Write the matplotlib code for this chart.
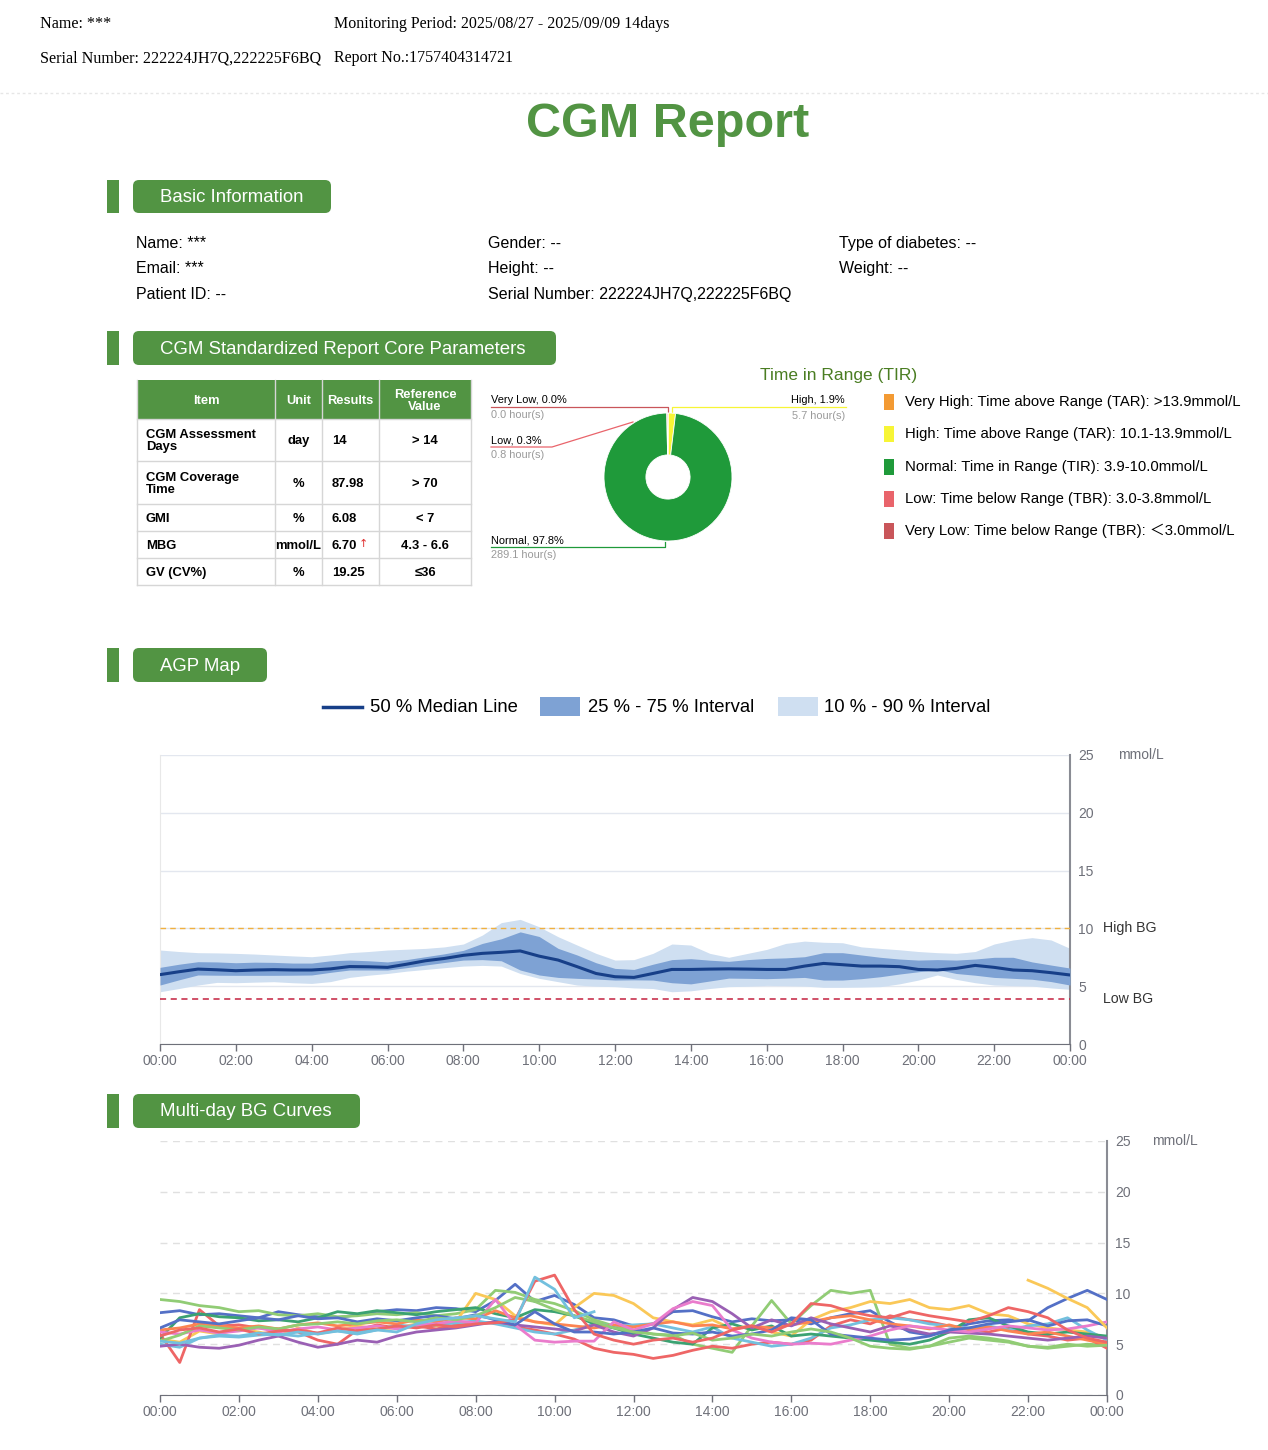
import numpy as np
import matplotlib
matplotlib.use("Agg")
import matplotlib.pyplot as plt
from matplotlib.patches import Rectangle, FancyBboxPatch

# ---------------------------------------------------------------
# data
# ---------------------------------------------------------------
header_left = ["Name: ***", "Serial Number: 222224JH7Q,222225F6BQ"]
header_right = ["Monitoring Period: 2025/08/27 - 2025/09/09 14days", "Report No.:1757404314721"]

info_col1 = ["Name: ***", "Email: ***", "Patient ID: --"]
info_col2 = ["Gender: --", "Height: --", "Serial Number: 222224JH7Q,222225F6BQ"]
info_col3 = ["Type of diabetes: --", "Weight: --"]

table_head = ["Item", "Unit", "Results", "Reference\nValue"]
table_items = ["CGM Assessment\nDays", "CGM Coverage\nTime", "GMI", "MBG", "GV (CV%)"]
table_units = ["day", "%", "%", "mmol/L", "%"]
table_results = ["14", "87.98", "6.08", "6.70", "19.25"]
table_refs = ["> 14", "> 70", "< 7", "4.3 - 6.6", "≤36"]

tir_names = ["Very High", "High", "Normal", "Low", "Very Low"]
tir_pct = [0.0, 1.9, 97.8, 0.3, 0.0]
tir_hours = [0.0, 5.7, 289.1, 0.8, 0.0]
tir_colors = ["#f39a33", "#f7f536", "#1f9a3a", "#e9646b", "#c9565a"]
tir_legend = ["Very High: Time above Range (TAR): >13.9mmol/L",
              "High: Time above Range (TAR): 10.1-13.9mmol/L",
              "Normal: Time in Range (TIR): 3.9-10.0mmol/L",
              "Low: Time below Range (TBR): 3.0-3.8mmol/L",
              "Very Low: Time below Range (TBR): \uff1c3.0mmol/L"]

hours = np.arange(0, 24.5, 0.5)
agp_p50 = [6.0, 6.25, 6.48, 6.42, 6.34, 6.4, 6.43, 6.4, 6.4, 6.5, 6.7, 6.68, 6.63, 6.9, 7.2, 7.4,
           7.67, 7.84, 7.93, 8.05, 7.6, 7.26, 6.69, 6.1, 5.82, 5.76, 6.1, 6.45, 6.45, 6.48, 6.5, 6.48,
           6.45, 6.45, 6.74, 6.97, 6.86, 6.74, 6.74, 6.69, 6.45, 6.4, 6.54, 6.8, 6.63, 6.4, 6.34, 6.17, 5.97]
agp_p75 = [6.63, 6.9, 7.12, 7.1, 7.03, 7.08, 7.06, 7.0, 7.0, 7.2, 7.26, 7.2, 7.1, 7.3, 7.55, 7.8,
           8.1, 8.7, 9.1, 9.7, 9.3, 8.27, 7.7, 7.03, 6.54, 6.45, 6.9, 7.3, 7.38, 7.25, 7.15, 7.3,
           7.4, 7.45, 7.55, 7.9, 7.9, 7.7, 7.5, 7.35, 7.26, 7.3, 7.26, 7.35, 7.5, 7.5, 7.1, 6.83, 6.57]
agp_p25 = [5.1, 5.55, 5.97, 5.95, 5.94, 5.94, 5.94, 5.95, 5.97, 6.2, 6.4, 6.4, 6.4, 6.6, 6.83, 7.05,
           7.26, 7.3, 7.2, 6.4, 5.97, 5.76, 5.68, 5.62, 5.53, 5.55, 5.53, 5.3, 5.2, 5.45, 5.7, 5.68,
           5.65, 5.7, 5.76, 5.53, 5.53, 5.65, 5.82, 6.05, 6.25, 6.45, 6.1, 5.95, 5.76, 5.68, 5.6, 5.4, 5.1]
agp_p90 = [8.13, 8.0, 7.9, 7.88, 7.84, 7.78, 7.7, 7.62, 7.55, 7.7, 7.9, 8.0, 8.13, 8.2, 8.27, 8.4,
           8.65, 9.42, 10.5, 10.78, 10.14, 9.28, 8.56, 7.84, 7.26, 7.3, 7.84, 8.65, 8.56, 7.84, 7.5, 7.84,
           8.18, 8.7, 8.9, 8.8, 8.76, 8.4, 8.27, 8.15, 8.0, 7.9, 7.84, 8.0, 8.65, 9.0, 9.2, 9.0, 8.27]
agp_p10 = [4.52, 4.8, 5.1, 5.33, 5.3, 5.35, 5.39, 5.3, 5.24, 5.4, 5.76, 5.95, 6.1, 6.3, 6.45, 6.6,
           6.74, 6.8, 6.74, 6.1, 5.68, 5.39, 5.1, 5.0, 4.96, 4.85, 4.8, 4.52, 4.6, 4.8, 4.96, 5.0,
           5.07, 5.05, 5.01, 4.9, 4.9, 4.92, 4.96, 5.2, 5.53, 5.97, 5.59, 5.3, 5.1, 5.05, 5.01, 4.85, 4.73]
high_bg = 10.0
low_bg = 3.9

nan = np.nan
day_curves = [
    [8.1, 8.3, 7.9, 8.0, 7.8, 7.6, 8.2, 7.9, 7.7, 7.6, 7.9, 8.2, 8.4, 8.3, 8.6, 8.5, 8.2, 9.3, 10.9, 9.2,
     9.8, 8.9, 7.6, 7.4, 6.8, 7.0, 8.2, 8.3, 7.7, 7.2, 7.5, 7.3, 7.4, 7.0, 7.6, 8.0, 8.3, 7.2, 6.2, 5.9,
     6.4, 7.0, 7.3, 7.4, 7.3, 8.6, 9.5, 10.3, 9.4],
    [9.4, 9.2, 8.8, 8.6, 8.2, 8.3, 7.9, 7.8, 8.0, 7.7, 7.8, 8.0, 7.9, 8.1, 7.8, 8.0, 8.4, 10.3, 10.1, 9.4,
     9.0, 8.3, 7.4, 6.8, 6.4, 6.0, 5.9, 5.0, 4.6, 4.2, 6.8, 9.3, 7.0, 8.8, 10.3, 10.0, 10.3, 5.0, 4.6, 4.8,
     5.6, 5.8, 5.6, 5.3, 4.8, 4.6, 4.8, 5.0, 4.9],
    [5.5, 5.2, 6.3, 6.0, 6.5, 6.2, 5.8, 6.6, 6.0, 6.4, 6.8, 6.5, 6.6, 7.0, 6.8, 7.2, 10.0, 9.4, 7.8, 7.2,
     6.9, 8.6, 10.0, 9.8, 9.0, 7.6, 7.2, 6.9, 7.4, 6.5, 6.8, 6.2, 5.8, 7.4, 8.2, 8.6, 9.2, 9.0, 9.4, 8.6,
     8.4, 8.8, 8.0, 7.8, 7.0, 6.6, 6.4, 6.2, 5.6],
    [6.0, 3.2, 8.4, 6.8, 6.9, 6.6, 6.5, 6.2, 5.4, 5.0, 6.4, 6.9, 6.6, 6.8, 6.5, 6.9, 7.0, 7.2, 6.7, 6.4,
     6.0, 5.5, 4.6, 4.2, 4.0, 3.6, 3.9, 4.4, 4.8, 4.6, 5.0, 5.2, 5.0, 5.4, 6.8, 7.4, 7.0, 7.8, 7.4, 7.2,
     6.8, 6.5, 6.2, 6.6, 6.0, 5.8, 5.4, 5.6, 4.6],
    [5.0, 4.7, 5.6, 5.8, 5.7, 5.9, 6.0, 5.8, 6.1, 6.3, 6.0, 6.4, 6.9, 6.7, 6.9, 7.1, 7.3, 7.0, 6.6, 6.2,
     6.0, 6.4, 7.0, 6.8, 6.9, 7.0, 6.6, 6.2, 6.7, 5.6, 5.2, 4.8, 5.0, 5.6, 6.6, 6.9, 7.4, 7.6, 7.4, 7.0,
     6.8, 6.6, 6.8, 6.4, 6.8, 7.0, 7.6, 6.4, 5.4],
    [5.6, 7.6, 8.0, 7.7, 7.6, 7.3, 7.4, 7.2, 7.6, 8.2, 8.0, 8.3, 8.1, 7.9, 8.2, 8.4, 8.6, 8.0, 7.6, 8.4,
     8.2, 7.8, 7.0, 6.6, 6.0, 5.6, 5.2, 5.0, 6.6, 7.0, 6.4, 6.8, 5.8, 6.0, 5.8, 5.6, 5.4, 5.2, 5.0, 5.4,
     6.2, 7.4, 7.6, 6.8, 6.2, 6.0, 6.2, 6.0, 5.8],
    [6.4, 6.6, 7.0, 6.8, 6.6, 6.8, 6.5, 6.9, 7.1, 6.8, 7.0, 7.2, 7.0, 7.4, 7.2, 7.6, 7.5, 8.3, 7.6, 7.2,
     7.0, 6.8, 6.6, 6.9, 6.7, 7.0, 7.2, 6.8, 6.9, 6.5, 6.8, 6.6, 6.9, 7.2, 7.6, 7.8, 7.4, 7.0, 6.8, 6.5,
     6.9, 6.4, 6.7, 6.3, 6.0, 6.2, 5.8, 5.4, 5.0],
    [4.8, 5.0, 4.7, 4.6, 4.9, 5.4, 5.8, 5.2, 4.7, 5.0, 5.4, 5.2, 5.8, 6.2, 6.4, 6.6, 6.9, 7.2, 6.9, 6.7,
     6.5, 6.3, 6.9, 6.2, 5.8, 6.6, 8.4, 9.6, 9.2, 8.0, 6.6, 7.4, 6.8, 7.6, 7.0, 6.6, 6.2, 6.8, 6.4, 6.0,
     6.2, 6.1, 6.0, 5.8, 5.6, 5.4, 5.6, 5.8, 5.6],
    [6.2, 6.0, 6.4, 6.1, 6.3, 6.6, 6.2, 6.5, 6.7, 6.4, 6.6, 6.8, 6.5, 6.9, 7.0, 7.3, 7.1, 9.4, 6.9, 5.4,
     5.2, 5.3, 5.3, 7.2, 6.4, 7.0, 8.5, 9.2, 8.8, 6.4, 5.6, 5.2, 5.0, 5.1, 5.0, 5.4, 5.8, 6.4, 6.8, 6.6,
     6.4, 6.2, 6.5, 6.8, 6.6, 6.4, 6.5, 6.8, 7.2],
    [6.6, 7.4, 7.2, 7.0, 7.3, 7.6, 7.4, 7.8, 7.5, 7.6, 7.2, 7.5, 7.3, 7.6, 7.8, 7.5, 7.9, 7.4, 6.9, 8.2,
     7.0, 6.2, 6.2, 6.0, 6.2, 6.6, 6.1, 6.0, 6.2, 5.8, 6.0, 6.4, 7.6, 7.4, 6.0, 5.8, 5.6, 5.4, 5.5, 5.8,
     6.4, 6.6, 7.0, 7.2, 7.4, 6.8, 7.3, 7.4, 6.8],
    [5.3, 5.9, 6.8, 6.6, 6.4, 6.7, 6.5, 6.9, 7.0, 7.2, 7.0, 7.3, 7.4, 7.2, 7.6, 7.4, 7.8, 8.6, 9.6, 9.2,
     8.4, 7.8, 7.2, 6.6, 6.2, 6.0, 5.8, 6.1, 5.4, 5.6, 6.0, 5.8, 6.2, 6.5, 6.2, 5.6, 4.8, 4.6, 4.5, 4.8,
     5.2, 5.6, 5.4, 5.2, 4.8, 4.7, 5.0, 4.8, 4.9],
    [nan, nan, nan, nan, nan, nan, nan, nan, nan, nan, nan, nan, nan, nan, nan, nan, nan, nan, nan, nan,
     nan, nan, nan, nan, nan, nan, nan, nan, nan, nan, nan, nan, nan, nan, nan, nan, nan, nan, nan, nan,
     nan, nan, nan, nan, 11.3, 10.5, 9.5, 8.6, 6.6],
    [5.8, 6.4, 6.6, 6.2, 6.5, 6.0, 6.3, 6.4, 6.1, 6.6, 6.3, 6.5, 6.8, 6.6, 6.9, 6.7, 7.0, 7.1, 7.4, 11.2,
     11.8, 8.4, 6.0, 5.4, 5.0, 5.4, 5.6, 5.2, 5.6, 6.4, 6.8, 6.2, 7.0, 9.0, 8.8, 8.2, 7.8, 7.6, 8.2, 7.8,
     7.5, 7.2, 7.8, 8.6, 8.2, 7.6, 6.4, 5.6, 5.2],
    [5.3, 5.1, 5.6, 5.9, 5.8, 6.1, 5.9, 6.2, 6.0, 6.3, 6.1, 6.4, 6.2, 7.0, 7.4, 7.6, 7.8, 7.5, 7.2, 11.6,
     10.4, 7.6, 8.2, nan, nan, nan, nan, nan, nan, nan, nan, nan, nan, nan, nan, nan, nan, nan, nan, nan,
     nan, nan, nan, nan, nan, nan, nan, nan, nan],
]
day_palette = ["#5470c6", "#91cc75", "#fac858", "#ee6666", "#73c0de",
               "#3ba272", "#fc8452", "#9a60b4", "#ea7ccc"]

hour_ticks = list(range(0, 25, 2))
hour_labels = ["%02d:00" % (h % 24) for h in hour_ticks]
bg_ticks = [0, 5, 10, 15, 20, 25]

# ---------------------------------------------------------------
# page layout (pixel coordinates)
# ---------------------------------------------------------------
W, H = 1268, 1450
GREEN = "#529443"
SANS = ["Liberation Sans", "DejaVu Sans"]
AXIS_GRAY = "#6e7079"

plt.rcParams["font.family"] = SANS

fig = plt.figure(figsize=(W / 100, H / 100), dpi=100)
bg = fig.add_axes([0, 0, 1, 1])
bg.set_xlim(0, W)
bg.set_ylim(H, 0)
bg.axis("off")


def px_axes(x0, y0, x1, y1):
    return fig.add_axes([x0 / W, 1 - y1 / H, (x1 - x0) / W, (y1 - y0) / H])


def section(y0, y1, x1, label):
    bg.add_patch(Rectangle((107, y0), 12, y1 - y0, color=GREEN, lw=0))
    bg.add_patch(FancyBboxPatch((133, y0), x1 - 133, y1 - y0,
                                boxstyle="round,pad=0,rounding_size=6",
                                fc=GREEN, ec="none"))
    bg.text(160, (y0 + y1) / 2 + 1, label, color="white", fontsize=13.4,
            va="center", ha="left")


# top header (serif)
for i, t in enumerate(header_left):
    bg.text(40, 24 + i * 34, t, family="Liberation Serif", fontsize=11.6, va="center")
for i, t in enumerate(header_right):
    bg.text(334, 24 + i * 34, t, family="Liberation Serif", fontsize=11.5, va="center")
bg.plot([0, W], [93, 93], color="#e6e6e6", lw=1, ls=(0, (2, 2)))

bg.text(668, 124, "CGM Report", color=GREEN, fontsize=35, fontweight="bold",
        ha="center", va="center")

# basic information
section(180, 213, 331, "Basic Information")
for col_x, col in [(136, info_col1), (488, info_col2), (839, info_col3)]:
    for i, t in enumerate(col):
        bg.text(col_x, 243 + i * 25.5, t, fontsize=11.5, va="center")

# core parameters table
section(331, 365, 556, "CGM Standardized Report Core Parameters")
col_x = [137, 275, 322, 379, 471]
row_y = [380, 419, 461, 504, 531, 558, 585]
bg.add_patch(Rectangle((col_x[0], row_y[0]), col_x[-1] - col_x[0], row_y[1] - row_y[0],
                       fc=GREEN, ec="none"))
for x in col_x:
    bg.plot([x, x], [row_y[0], row_y[-1]], color="#d6d6d6", lw=1)
for y in row_y[1:]:
    bg.plot([col_x[0], col_x[-1]], [y, y], color="#d6d6d6", lw=1)
for j, t in enumerate(table_head):
    bg.text((col_x[j] + col_x[j + 1]) / 2, (row_y[0] + row_y[1]) / 2 + 1, t, color="white",
            fontsize=9.3, fontweight="bold", ha="center", va="center", linespacing=1.0)
for i in range(len(table_items)):
    yc = (row_y[i + 1] + row_y[i + 2]) / 2 + 1
    bg.text(146, yc, table_items[i], fontsize=9.4, fontweight="bold", va="center", linespacing=1.0)
    bg.text((col_x[1] + col_x[2]) / 2, yc, table_units[i], fontsize=9.4, fontweight="bold",
            ha="center", va="center")
    bg.text(332, yc, table_results[i], fontsize=9.4, fontweight="bold", va="center")
    bg.text((col_x[3] + col_x[4]) / 2, yc, table_refs[i], fontsize=9.4, fontweight="bold",
            ha="center", va="center")
bg.text(359, 544, "\u2191", color="#e03030", fontsize=8, ha="left", va="center",
        family=["DejaVu Sans"])

# TIR donut
bg.text(839, 375, "Time in Range (TIR)", color="#4a7d22", fontsize=12.5, ha="center", va="center")
pie_ax = px_axes(604, 413, 732, 541)
pie_ax.pie(tir_pct, colors=tir_colors, startangle=90, counterclock=False, radius=1,
           wedgeprops=dict(width=0.655, edgecolor="white", linewidth=0.6))
pie_ax.set_xlim(-1, 1)
pie_ax.set_ylim(-1, 1)
pie_ax.set_aspect("auto")
pie_ax.axis("off")

lab_fs = 7.9
# Very Low
bg.plot([491, 668, 668], [407, 407, 412], color=tir_colors[4], lw=0.9)
bg.text(491, 400, "%s, %.1f%%" % (tir_names[4], tir_pct[4]), fontsize=lab_fs, va="center")
bg.text(491, 415, "%.1f hour(s)" % tir_hours[4], fontsize=lab_fs, color="#9a9a9a", va="center")
# Low
bg.plot([491, 552, 633], [447, 447, 422], color=tir_colors[3], lw=0.9)
bg.text(491, 440, "%s, %.1f%%" % (tir_names[3], tir_pct[3]), fontsize=lab_fs, va="center")
bg.text(491, 455, "%.1f hour(s)" % tir_hours[3], fontsize=lab_fs, color="#9a9a9a", va="center")
# High
bg.plot([672, 672, 846], [412, 407, 407], color=tir_colors[1], lw=0.9)
bg.text(845, 400, "%s, %.1f%%" % (tir_names[1], tir_pct[1]), fontsize=lab_fs, ha="right", va="center")
bg.text(845, 416, "%.1f hour(s)" % tir_hours[1], fontsize=lab_fs, color="#9a9a9a",
        ha="right", va="center")
# Normal
bg.plot([665, 665, 491], [542, 547, 547], color=tir_colors[2], lw=0.9)
bg.text(491, 540, "%s, %.1f%%" % (tir_names[2], tir_pct[2]), fontsize=lab_fs, va="center")
bg.text(491, 555, "%.1f hour(s)" % tir_hours[2], fontsize=lab_fs, color="#9a9a9a", va="center")

for i, t in enumerate(tir_legend):
    yc = 402 + i * 32.3
    bg.add_patch(Rectangle((884, yc - 8), 10, 16, color=tir_colors[i], lw=0))
    bg.text(905, yc, t, fontsize=10.7, va="center",
            family=["Liberation Sans", "Noto Sans CJK SC", "DejaVu Sans"])

# ---------------------------------------------------------------
# AGP map
# ---------------------------------------------------------------
section(648, 682, 267, "AGP Map")
C_MED, C_IQR, C_OUT = "#173f88", "#7ea2d4", "#cfdff1"
bg.plot([323, 362], [707, 707], color=C_MED, lw=2.5)
bg.text(370, 707, "50 % Median Line", fontsize=13.3, va="center")
bg.add_patch(Rectangle((540, 697), 40, 19, color=C_IQR, lw=0))
bg.text(588, 707, "25 % - 75 % Interval", fontsize=13.3, va="center")
bg.add_patch(Rectangle((778, 697), 40, 19, color=C_OUT, lw=0))
bg.text(824, 707, "10 % - 90 % Interval", fontsize=13.3, va="center")

ax = px_axes(160, 755, 1070, 1044)
ax.fill_between(hours, agp_p10, agp_p90, color=C_OUT, lw=0, zorder=2)
ax.fill_between(hours, agp_p25, agp_p75, color=C_IQR, lw=0, zorder=3)
ax.plot(hours, agp_p50, color=C_MED, lw=2.2, zorder=4)
ax.axhline(high_bg, color="#f0b040", lw=1, ls=(0, (4, 3)), zorder=5)
ax.axhline(low_bg, color="#c4203f", lw=1.1, ls=(0, (4, 3)), zorder=5)
ax.set_xlim(0, 24)
ax.set_ylim(0, 25)
ax.set_yticks(bg_ticks)
ax.yaxis.tick_right()
ax.yaxis.grid(True, color="#e3e7ef", lw=1)
ax.set_axisbelow(True)
ax.set_xticks(hour_ticks)
ax.set_xticklabels(hour_labels)
ax.tick_params(axis="x", colors=AXIS_GRAY, labelsize=10, length=5, width=1, pad=2)
ax.tick_params(axis="y", colors=AXIS_GRAY, labelsize=10, length=0, pad=6)
ax.spines["top"].set_visible(False)
ax.spines["left"].set_color("#e8e8e8")
ax.spines["right"].set_color("#8a8c94")
ax.spines["right"].set_linewidth(1.5)
ax.spines["bottom"].set_color(AXIS_GRAY)
bg.text(1103, 928, "High BG", fontsize=10.2, color="#333333", va="center")
bg.text(1103, 999, "Low BG", fontsize=10.2, color="#333333", va="center")
bg.text(1118, 755, "mmol/L", fontsize=10, color=AXIS_GRAY, va="center")

# ---------------------------------------------------------------
# Multi-day BG curves
# ---------------------------------------------------------------
section(1094, 1128, 360, "Multi-day BG Curves")
ax2 = px_axes(160, 1141, 1107, 1395)
for i, vals in enumerate(day_curves):
    ax2.plot(hours, vals, color=day_palette[i % len(day_palette)], lw=2.0, zorder=3)
ax2.set_xlim(0, 24)
ax2.set_ylim(0, 25)
ax2.set_yticks(bg_ticks)
ax2.yaxis.tick_right()
ax2.yaxis.grid(True, color="#e0e0e0", lw=1, ls=(0, (5, 4)))
ax2.set_axisbelow(True)
ax2.set_xticks(hour_ticks)
ax2.set_xticklabels(hour_labels)
ax2.tick_params(axis="x", colors=AXIS_GRAY, labelsize=10, length=5, width=1, pad=2)
ax2.tick_params(axis="y", colors=AXIS_GRAY, labelsize=10, length=0, pad=6)
ax2.spines["top"].set_visible(False)
ax2.spines["left"].set_visible(False)
ax2.spines["right"].set_color("#8a8c94")
ax2.spines["right"].set_linewidth(1.5)
ax2.spines["bottom"].set_color(AXIS_GRAY)
bg.text(1152, 1141, "mmol/L", fontsize=10, color=AXIS_GRAY, va="center")

fig.savefig("out.png", dpi=100)
